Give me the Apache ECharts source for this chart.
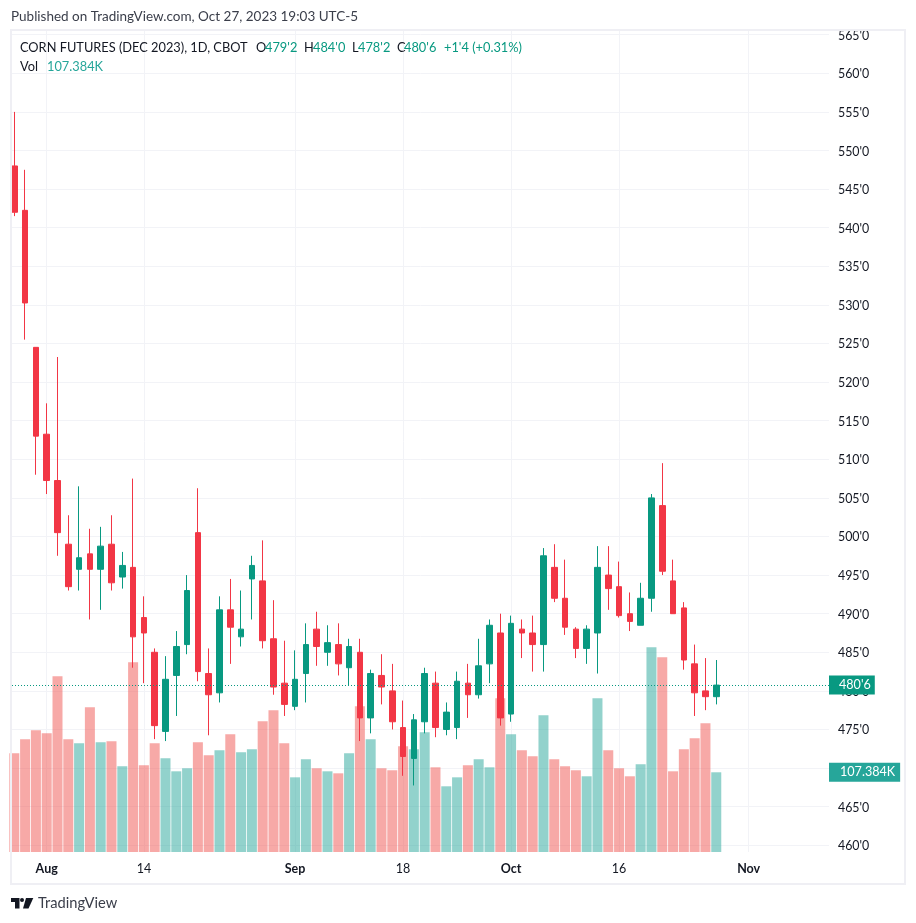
<!DOCTYPE html>
<html>
<head>
<meta charset="utf-8">
<style>
  html, body { margin: 0; padding: 0; background: #fff; }
  #chart { width: 916px; height: 923px; }
</style>
<script src="https://cdn.jsdelivr.net/npm/echarts@6/dist/echarts.min.js"></script>
</head>
<body>
<div id="chart"></div>
<script>
// daily bars, Jul 27 - Oct 27 2023, trading days only
const open = [548, 542.25, 524.5, 513.25, 507.25, 499, 495.75, 497.75, 495.75, 499, 494.75, 496, 489.5, 485, 474.75, 482, 486, 500.5, 482.25, 479.75, 490.5, 487, 494.5, 494.25, 486.75, 481, 478, 482.25, 488, 485, 486, 483, 485, 476.5, 482, 480, 475.25, 471.25, 476, 481, 475, 475.25, 481, 479.5, 483.5, 487.5, 477, 488, 487.5, 486, 496, 492, 488, 485.5, 487.5, 495, 493.5, 490, 488.5, 492, 504, 494.25, 490.75, 483.5, 480, 479.25];
const close = [542, 530.25, 513, 507.25, 500.5, 493.5, 497.25, 495.75, 498.75, 494, 496.25, 487, 487.5, 475.5, 481.5, 485.75, 493, 482.5, 479.5, 490.5, 488.25, 488, 496.25, 486.5, 480.5, 478.25, 481.5, 486, 485.75, 486.25, 483.5, 485.75, 476.5, 482.25, 480.5, 476, 471.5, 476.25, 482.25, 475.25, 477.25, 481.25, 479.5, 483.25, 488.5, 476.5, 488.75, 487.5, 486, 497.5, 492, 488.25, 485.5, 488, 496, 493.25, 489.75, 489, 492, 505, 495.5, 490, 484, 479.75, 479.25, 480.75];
const high = [555, 547.5, 524.5, 517.25, 523.25, 502.75, 506.5, 501, 501.25, 502.75, 498, 507.5, 492.25, 485.5, 484.5, 487.75, 495, 506.25, 485.5, 492.25, 494.5, 493, 497.5, 499.5, 491.75, 486.5, 485.25, 488.75, 490.25, 488.5, 488.75, 486.75, 486.75, 482.75, 484.75, 483.5, 478.75, 477, 483, 482.5, 478.5, 482.5, 483.5, 486.75, 489.25, 490, 489.75, 489.25, 489.75, 498.5, 499, 497, 488.25, 488.5, 498.75, 498.75, 496.75, 492.75, 494, 505.5, 509.5, 497, 491.5, 486, 484.25, 484];
const low = [541.5, 525.5, 508, 505.5, 497.5, 493, 493, 489.25, 490.5, 493, 493.25, 483, 481, 473.75, 473.5, 476.75, 484.75, 481.25, 474.25, 478.5, 483.5, 485.75, 489.25, 485.5, 479.5, 476.75, 477.5, 478.5, 483.25, 483.25, 482, 480.75, 473.5, 474.5, 478.25, 475, 469, 467.75, 474.5, 474, 474.25, 473.75, 476.5, 479, 481, 475.5, 476, 484.25, 482.5, 482.5, 491.5, 487.25, 484.25, 483.5, 482.25, 490.5, 489.5, 487.75, 488.5, 490.25, 495, 490, 482.75, 476.75, 477.5, 478.25];
// volume in thousands
const volume = [133, 151.8, 164, 160, 236.7, 151.8, 146.4, 195, 147.8, 149.1, 115.5, 255.6, 116.8, 146.4, 126.2, 108.7, 112.8, 147.8, 130.3, 137, 158.6, 134.3, 138.4, 176.1, 190.9, 146.4, 100.6, 124.9, 112.8, 108.7, 106, 133, 196.3, 151.8, 112.8, 110.1, 142.4, 138.4, 161.3, 114.1, 88.5, 100.6, 116.8, 124.9, 114.1, 207.1, 158.6, 137, 128.9, 184.2, 124.9, 115.5, 110.1, 102, 207.1, 137, 112.8, 102, 118.1, 275.8, 262.4, 108.7, 138.4, 153.2, 173.4, 107.384];

const xTickIndex = [3, 12, 26, 36, 46, 56, 68];
const xTickLabels = ['Aug', '14', 'Sep', '18', 'Oct', '16', 'Nov'];
const monthLabels = ['Aug', 'Sep', 'Oct', 'Nov'];
const priceTicks = [460, 465, 470, 475, 480, 485, 490, 495, 500, 505, 510, 515, 520, 525, 530, 535, 540, 545, 550, 555, 560, 565];
const lastPrice = 480.75;
const lastPriceLabel = "480'6";
const lastVolume = 107.384;
const lastVolumeLabel = '107.384K';

const UP = '#089981';
const DOWN = '#F23645';
const VOL_UP = '#26A69A';
const GRID = '#F2F3F7';
const TEXT = '#131722';
const FONT = 'Lato, "Open Sans", sans-serif';

// legend header: text, colour, left edge
const headerRow = [
  ['CORN FUTURES (DEC 2023), 1D, CBOT', TEXT, 20],
  ['O', TEXT, 256],
  ["479'2", UP, 265],
  ['H', TEXT, 304],
  ["484'0", UP, 313],
  ['L', TEXT, 352],
  ["478'2", UP, 358],
  ['C', TEXT, 397],
  ["480'6", UP, 404],
  ["+1'4 (+0.31%)", UP, 444]
];

const titleAt = (text, color, left, top, fontSize) => ({
  text, left, top, padding: 0,
  textStyle: { fontSize, fontWeight: 'normal', color, fontFamily: FONT }
});

const chart = echarts.init(document.getElementById('chart'));

const candleData = open.map((o, i) => [i, o, close[i], low[i], high[i]]);
const volumeData = volume.map((v, i) => [i, v]);

chart.setOption({
  animation: false,
  backgroundColor: '#fff',
  textStyle: { fontFamily: FONT },
  title: [
    titleAt('Published on TradingView.com, Oct 27, 2023 19:03 UTC-5', '#3a3e4a', 11, 10, 13.5),
    ...headerRow.map(([text, color, left]) => titleAt(text, color, left, 41, 12.8)),
    titleAt('Vol', TEXT, 20, 60, 12.8),
    titleAt('107.384K', VOL_UP, 47, 60, 12.8)
  ],
  grid: { left: 12, right: 87, top: 31, bottom: 71 },
  xAxis: {
    type: 'value',
    min: -0.213,
    max: 75.44,
    axisLine: { show: false },
    axisTick: { show: false, customValues: xTickIndex },
    splitLine: { show: true, lineStyle: { color: GRID, width: 1 } },
    axisLabel: {
      customValues: xTickIndex,
      margin: 10,
      fontSize: 12.5,
      color: TEXT,
      formatter: (v) => {
        const label = xTickLabels[xTickIndex.indexOf(v)];
        return monthLabels.includes(label) ? `{m|${label}}` : label;
      },
      rich: { m: { fontWeight: 'bold', fontSize: 12.5, color: TEXT, fontFamily: FONT } }
    }
  },
  yAxis: [
    {
      type: 'value',
      position: 'right',
      min: 459.13,
      max: 565.48,
      axisLine: { show: false },
      axisTick: { show: false, customValues: priceTicks },
      splitLine: { show: true, lineStyle: { color: GRID, width: 1 } },
      axisLabel: {
        customValues: priceTicks,
        margin: 9,
        color: TEXT,
        formatter: (v) => `{p|${v}'0}`,
        rich: { p: { fontSize: 12.4, color: TEXT, fontFamily: FONT, padding: [2, 0, 0, 0] } }
      }
    },
    { type: 'value', show: false, min: 0, max: 1106, splitLine: { show: false } }
  ],
  series: [
    {
      name: 'Vol',
      type: 'bar',
      yAxisIndex: 1,
      barWidth: 10,
      z: 2,
      data: volumeData,
      itemStyle: {
        color: (p) => close[p.dataIndex] >= open[p.dataIndex] ? 'rgba(38,166,154,0.5)' : 'rgba(239,83,80,0.5)'
      },
      markLine: {
        silent: true,
        symbol: 'none',
        data: [{ yAxis: lastVolume }],
        lineStyle: { color: 'rgba(0,0,0,0)', width: 0 },
        label: {
          show: true, position: 'end', distance: 0, formatter: lastVolumeLabel,
          backgroundColor: VOL_UP, color: '#fff', fontSize: 12.6, fontFamily: FONT,
          padding: [4, 5, 2, 11], lineHeight: 13
        }
      }
    },
    {
      name: 'CORN',
      type: 'candlestick',
      z: 3,
      barWidth: 6,
      data: candleData,
      itemStyle: { color: UP, color0: DOWN, borderColor: UP, borderColor0: DOWN, borderWidth: 1 },
      markLine: {
        silent: true,
        symbol: 'none',
        data: [{ yAxis: lastPrice }],
        lineStyle: { color: UP, type: [1, 2], width: 1 },
        label: {
          show: true, position: 'end', distance: 0, formatter: lastPriceLabel,
          backgroundColor: UP, color: '#fff', fontSize: 12.6, fontFamily: FONT,
          padding: [4, 4, 2, 10], lineHeight: 13
        }
      }
    }
  ],
  graphic: [
    { type: 'rect', silent: true, z: 100, shape: { x: 11, y: 30, width: 894, height: 854 }, style: { fill: 'none', stroke: '#EFEFF4', lineWidth: 2 } },
    { type: 'polygon', silent: true, shape: { points: [[11, 898], [19.5, 898], [19.5, 908.5], [15, 908.5], [15, 902], [11, 902]] }, style: { fill: TEXT } },
    { type: 'circle', silent: true, shape: { cx: 22, cy: 900, r: 2 }, style: { fill: TEXT } },
    { type: 'polygon', silent: true, shape: { points: [[26, 898], [33.3, 898], [28.5, 908.5], [23, 908.5]] }, style: { fill: TEXT } },
    { type: 'text', silent: true, left: 38, top: 896, style: { text: 'TradingView', fill: '#3a3e4a', fontSize: 14.7, fontFamily: FONT } }
  ]
});
</script>
</body>
</html>
